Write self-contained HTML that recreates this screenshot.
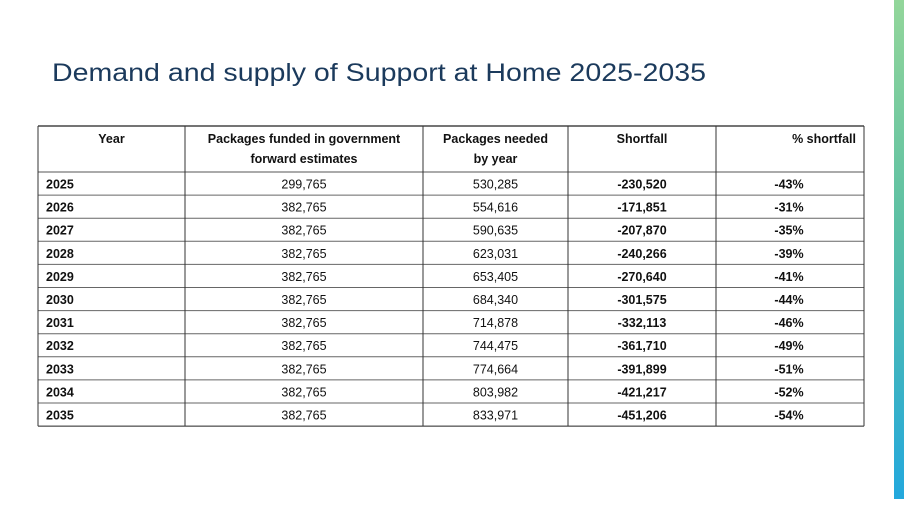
<!DOCTYPE html>
<html><head><meta charset="utf-8"><style>
html,body{margin:0;padding:0;background:#fff;width:904px;height:508px;overflow:hidden}
svg{display:block}
text{font-family:"Liberation Sans",sans-serif}
</style></head><body>
<svg width="904" height="508" viewBox="0 0 904 508">
<defs><linearGradient id="g" x1="0" y1="0" x2="0" y2="1"><stop offset="0" stop-color="#93d69a"/><stop offset="0.45" stop-color="#5cc0a4"/><stop offset="1" stop-color="#23a8dd"/></linearGradient></defs>
<rect x="894" y="0" width="10" height="499" fill="url(#g)"/>
<text x="52" y="81" font-size="25" fill="#1b3a5c" textLength="654" lengthAdjust="spacingAndGlyphs">Demand and supply of Support at Home 2025-2035</text>
<g id="tbl"></g>
</svg>
<script>
const years=["2025","2026","2027","2028","2029","2030","2031","2032","2033","2034","2035"];
const funded=["299,765","382,765","382,765","382,765","382,765","382,765","382,765","382,765","382,765","382,765","382,765"];
const needed=["530,285","554,616","590,635","623,031","653,405","684,340","714,878","744,475","774,664","803,982","833,971"];
const shortfall=["-230,520","-171,851","-207,870","-240,266","-270,640","-301,575","-332,113","-361,710","-391,899","-421,217","-451,206"];
const pct=["-43%","-31%","-35%","-39%","-41%","-44%","-46%","-49%","-51%","-52%","-54%"];
{
const NS="http://www.w3.org/2000/svg";
const g=document.getElementById('tbl');
const cols=[38,185,423,568,716,864];
const tTop=126,hdrB=172,rowH=23.1;
function line(x1,y1,x2,y2,c,w){const l=document.createElementNS(NS,'line');l.setAttribute('x1',x1);l.setAttribute('y1',y1);l.setAttribute('x2',x2);l.setAttribute('y2',y2);l.setAttribute('stroke',c);l.setAttribute('stroke-width',w);


g.appendChild(l);return l;}
function txt(x,y,s,anchor,bold,name){const t=document.createElementNS(NS,'text');t.setAttribute('x',x);t.setAttribute('y',y);t.setAttribute('font-size','12.5');t.setAttribute('fill','#111');t.setAttribute('text-anchor',anchor);if(bold)t.setAttribute('font-weight','bold');t.textContent=s;


g.appendChild(t);}
const bottom=hdrB+rowH*years.length;
line(cols[0],tTop,cols[5],tTop,'#222',1.2);
line(cols[0],hdrB,cols[5],hdrB,'#555',1);
for(let i=1;i<=years.length;i++)line(cols[0],hdrB+rowH*i,cols[5],hdrB+rowH*i,i==years.length?'#222':'#666',1);
cols.forEach(x=>line(x,tTop,x,bottom,'#333',1));
const mid=i=>(cols[i]+cols[i+1])/2;
txt(mid(0),143,'Year','middle',true,'header-year');
txt(mid(1),143,'Packages funded in government','middle',true,'header-funded');
txt(mid(1),163,'forward estimates','middle',true,'header-funded-line2');
txt(mid(2),143,'Packages needed','middle',true,'header-needed');
txt(mid(2),163,'by year','middle',true,'header-needed-line2');
txt(mid(3),143,'Shortfall','middle',true,'header-shortfall');
txt(856,143,'% shortfall','end',true,'header-pct-shortfall');
years.forEach((y,i)=>{const by=hdrB+rowH*i+16.5;
txt(46,by,y,'start',true,'year-'+y);
txt(mid(1),by,funded[i],'middle',false,'funded-'+y);
txt(mid(2),by,needed[i],'middle',false,'needed-'+y);
txt(mid(3),by,shortfall[i],'middle',true,'shortfall-'+y);
txt(789,by,pct[i],'middle',true,'pct-'+y);});
}
</script>
</body></html>
